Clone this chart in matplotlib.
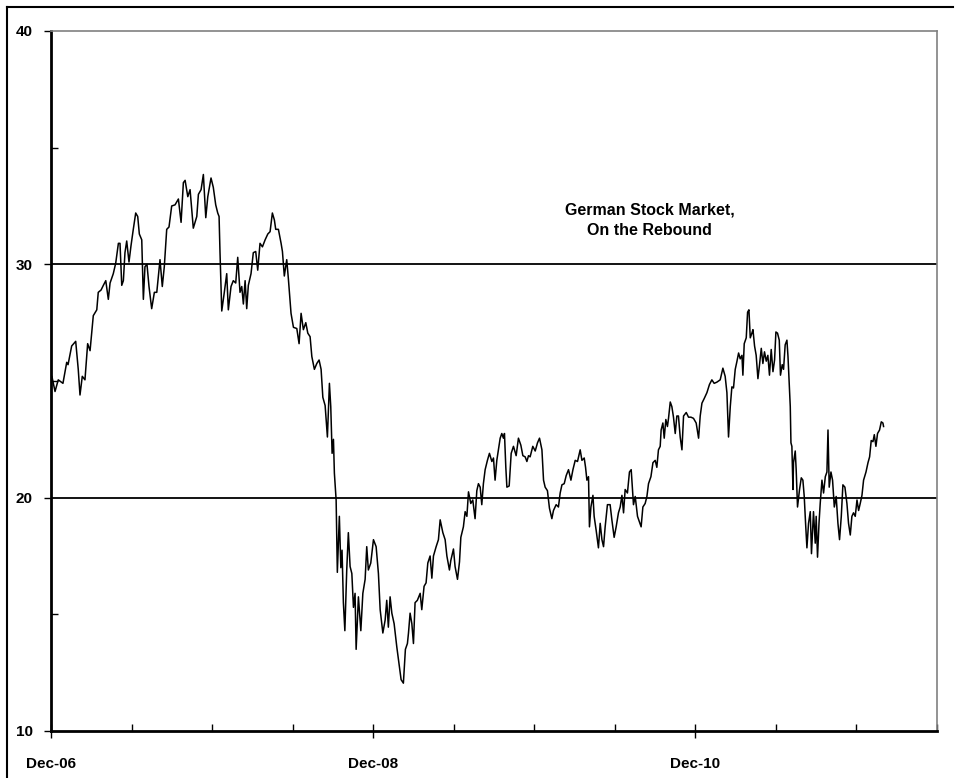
import matplotlib
matplotlib.use("Agg")
import matplotlib.pyplot as plt
from matplotlib.lines import Line2D

# months after Dec-06, and index level
months = [
    0.07, 0.30, 0.54, 0.89, 1.17, 1.27, 1.54, 1.84, 2.03, 2.16, 2.33, 2.53, 2.73, 2.91,
    3.15, 3.41, 3.52, 3.73, 3.90, 4.08, 4.27, 4.40, 4.64, 4.82, 5.02, 5.14, 5.27, 5.39,
    5.51, 5.64, 5.81, 5.96, 6.13, 6.31, 6.46, 6.58, 6.76, 6.88, 7.00, 7.15, 7.30, 7.50,
    7.70, 7.88, 8.00, 8.12, 8.29, 8.44, 8.62, 8.79, 8.99, 9.24, 9.49, 9.69, 9.86, 9.99,
    10.19, 10.36, 10.60, 10.86, 10.98, 11.18, 11.35, 11.53, 11.68, 11.92, 12.09, 12.27,
    12.42, 12.52, 12.59, 12.72, 12.91, 13.09, 13.21, 13.41, 13.58, 13.76, 13.91, 14.08,
    14.21, 14.33, 14.46, 14.58, 14.70, 14.90, 15.07, 15.25, 15.40, 15.57, 15.75, 15.95,
    16.15, 16.32, 16.49, 16.64, 16.74, 16.94, 17.14, 17.24, 17.38, 17.56, 17.68, 17.88,
    18.06, 18.31, 18.48, 18.63, 18.80, 18.98, 19.13, 19.30, 19.43, 19.62, 19.80, 19.97,
    20.12, 20.25, 20.42, 20.59, 20.74, 20.84, 20.94, 21.04, 21.11, 21.24, 21.33, 21.48,
    21.59, 21.68, 21.78, 21.89, 22.03, 22.15, 22.28, 22.41, 22.53, 22.65, 22.73, 22.90,
    23.08, 23.23, 23.40, 23.52, 23.64, 23.82, 24.02, 24.22, 24.39, 24.52, 24.72, 24.89,
    25.01, 25.13, 25.26, 25.39, 25.56, 25.76, 25.95, 26.08, 26.25, 26.40, 26.55, 26.63,
    26.75, 26.88, 27.00, 27.12, 27.29, 27.50, 27.62, 27.79, 27.94, 28.07, 28.24, 28.37,
    28.49, 28.69, 28.86, 28.99, 29.19, 29.36, 29.49, 29.68, 29.78, 29.98, 30.10, 30.28,
    30.43, 30.53, 30.72, 30.85, 30.98, 31.10, 31.27, 31.42, 31.59, 31.72, 31.84, 31.97,
    32.09, 32.21, 32.34, 32.51, 32.66, 32.84, 32.96, 33.08, 33.21, 33.33, 33.46, 33.58,
    33.70, 33.78, 33.88, 33.96, 34.13, 34.28, 34.45, 34.65, 34.82, 35.00, 35.15, 35.32,
    35.45, 35.57, 35.69, 35.89, 36.07, 36.24, 36.39, 36.57, 36.69, 36.81, 36.98, 37.13,
    37.31, 37.43, 37.63, 37.80, 37.93, 38.06, 38.23, 38.38, 38.55, 38.73, 38.88, 39.05,
    39.22, 39.42, 39.55, 39.72, 39.82, 39.92, 40.04, 40.11, 40.22, 40.37, 40.46, 40.61,
    40.78, 40.91, 41.04, 41.16, 41.28, 41.45, 41.65, 41.78, 41.95, 42.10, 42.27, 42.40,
    42.53, 42.65, 42.77, 42.94, 43.09, 43.22, 43.39, 43.52, 43.69, 43.84, 43.96, 44.09,
    44.26, 44.39, 44.51, 44.69, 44.84, 45.01, 45.13, 45.25, 45.38, 45.45, 45.58, 45.68,
    45.80, 45.92, 46.00, 46.13, 46.25, 46.37, 46.50, 46.62, 46.74, 46.87, 47.00, 47.12,
    47.32, 47.49, 47.67, 47.86, 48.06, 48.24, 48.36, 48.49, 48.66, 48.86, 49.05, 49.23,
    49.40, 49.60, 49.85, 50.05, 50.22, 50.35, 50.47, 50.60, 50.72, 50.84, 50.97, 51.10,
    51.22, 51.34, 51.47, 51.54, 51.64, 51.79, 51.89, 51.99, 52.09, 52.21, 52.29, 52.41,
    52.53, 52.66, 52.78, 52.91, 53.03, 53.15, 53.28, 53.40, 53.52, 53.65, 53.78, 53.90,
    54.00, 54.12, 54.25, 54.34, 54.47, 54.57, 54.69, 54.82, 54.90, 54.99, 55.07, 55.12,
    55.19, 55.27, 55.31, 55.44, 55.51, 55.61, 55.76, 55.89, 56.01, 56.11, 56.21, 56.31,
    56.43, 56.56, 56.65, 56.80, 56.93, 57.00, 57.10, 57.21, 57.30, 57.43, 57.55, 57.68,
    57.80, 57.88, 57.97, 58.10, 58.22, 58.35, 58.49, 58.62, 58.74, 58.87, 58.99, 59.14,
    59.29, 59.41, 59.54, 59.66, 59.78, 59.91, 60.04, 60.16, 60.28, 60.41, 60.53, 60.71,
    60.86, 60.98, 61.10, 61.23, 61.33, 61.45, 61.57, 61.72, 61.85, 61.97, 62.02,
]
level = [
    25.19, 24.55, 25.05, 24.9, 25.8, 25.7, 26.5, 26.7, 25.5, 24.4, 25.2, 25.05, 26.6, 26.3,
    27.8, 28.05, 28.8, 28.9, 29.1, 29.3, 28.5, 29.2, 29.6, 30.05, 30.9, 30.9, 29.1, 29.3,
    30.5, 31.0, 30.1, 30.8, 31.5, 32.2, 32.05, 31.3, 31.05, 28.5, 29.9, 30.0, 29.05, 28.1,
    28.8, 28.8, 29.5, 30.2, 29.05, 29.9, 31.5, 31.6, 32.5, 32.55, 32.8, 31.8, 33.5, 33.6,
    32.9, 33.2, 31.55, 32.05, 33.0, 33.2, 33.85, 32.0, 32.9, 33.7, 33.3, 32.55,
    32.2, 32.05, 30.5, 28.0, 28.8, 29.6, 28.05, 29.05, 29.3, 29.2, 30.3, 28.8,
    29.05, 28.3, 29.3, 28.1, 29.1, 29.6, 30.5, 30.55, 29.75, 30.9, 30.75, 31.05,
    31.3, 31.4, 32.2, 31.9, 31.5, 31.5, 30.9, 30.55, 29.5, 30.2, 29.4, 27.9,
    27.3, 27.25, 26.6, 27.9, 27.2, 27.5, 27.05, 26.9, 26.05, 25.5, 25.75, 25.9,
    25.5, 24.3, 23.95, 22.6, 24.9, 23.9, 21.9, 22.5, 21.05, 19.9, 16.8, 19.2,
    17.0, 17.75, 15.5, 14.3, 16.9, 18.5, 17.05, 16.75, 15.3, 15.9, 13.5, 15.75,
    14.3, 15.9, 16.5, 17.9, 16.9, 17.2, 18.2, 17.9, 16.75, 15.2, 14.2, 14.75,
    15.6, 14.45, 15.75, 15.05, 14.6, 13.6, 12.75, 12.2, 12.05, 13.5, 13.75, 14.2,
    15.05, 14.6, 13.75, 15.5, 15.6, 15.9, 15.2, 16.2, 16.35, 17.2, 17.5, 16.55,
    17.5, 17.9, 18.2, 19.05, 18.5, 18.2, 17.5, 16.9, 17.3, 17.8, 17.05, 16.5,
    17.25, 18.3, 18.75, 19.4, 19.2, 20.25, 19.75, 19.9, 19.1, 20.3, 20.6, 20.45,
    19.7, 20.6, 21.2, 21.6, 21.9, 21.55, 21.7, 20.75, 21.6, 22.05, 22.55, 22.75,
    22.55, 22.75, 21.3, 20.45, 20.5, 21.9, 22.2, 21.8, 22.55, 22.25, 21.8, 21.75,
    21.55, 21.8, 21.75, 22.2, 22.0, 22.35, 22.55, 22.05, 20.75, 20.45, 20.3, 19.55,
    19.1, 19.45, 19.7, 19.6, 20.2, 20.55, 20.6, 20.95, 21.2, 20.75, 21.2, 21.6,
    21.55, 22.05, 21.6, 21.7, 21.3, 20.75, 20.9, 18.75, 19.6, 20.1, 19.2, 18.6,
    17.85, 18.9, 18.2, 17.9, 18.75, 19.7, 19.7, 19.05, 18.3, 18.75, 19.35, 19.6,
    20.1, 19.35, 20.35, 20.2, 21.1, 21.2, 19.7, 20.05, 19.2, 18.95, 18.75, 19.6,
    19.75, 20.05, 20.6, 20.9, 21.5, 21.6, 21.3, 22.05, 22.2, 22.9, 23.2, 22.55,
    23.35, 23.05, 23.4, 24.1, 23.9, 23.45, 22.75, 23.5, 23.5, 22.6, 22.05, 23.5,
    23.65, 23.45, 23.45, 23.4, 23.2, 22.55, 23.5, 24.05, 24.25, 24.5, 24.85, 25.05,
    24.9, 24.95, 25.05, 25.55, 25.2, 24.5, 22.6, 23.9, 24.75, 24.7, 25.5, 25.85,
    26.2, 25.95, 26.1, 25.25, 26.6, 26.85, 27.95, 28.05, 26.85, 27.05, 27.2, 26.5,
    26.1, 25.1, 25.7, 26.4, 25.75, 26.25, 25.85, 26.1, 25.25, 26.35, 25.4, 25.9,
    27.1, 27.05, 26.75, 25.25, 25.7, 25.5, 26.55, 26.75, 26.05, 24.9, 23.9, 22.35,
    22.2, 20.35, 21.5, 22.0, 21.2, 19.6, 20.35, 20.85, 20.75, 20.05, 18.9, 17.85,
    18.9, 19.4, 17.6, 19.4, 18.05, 19.2, 17.45, 18.9, 19.75, 20.75, 20.2, 20.9,
    21.1, 22.9, 20.45, 21.1, 20.75, 19.6, 20.05, 18.9, 18.2, 19.2, 20.55, 20.45,
    19.75, 18.9, 18.4, 19.2, 19.35, 19.2, 19.9, 19.45, 19.75, 20.1, 20.75, 21.1,
    21.5, 21.75, 22.45, 22.4, 22.7, 22.2, 22.75, 22.9, 23.25, 23.2, 23.05,
]

tick_months = [0, 24, 48]
tick_labels = ["Dec-06", "Dec-08", "Dec-10"]
note = "German Stock Market,\nOn the Rebound"

plt.rcParams["font.family"] = ["Liberation Sans", "DejaVu Sans"]
plt.rcParams["font.weight"] = "bold"

fig = plt.figure(figsize=(9.56, 7.78), dpi=100)
ax = fig.add_axes([51 / 956, 1 - 731 / 778, (937 - 51) / 956, (731 - 31) / 778])

ax.plot(months, level, color="black", lw=1.1)
for g in (20, 30):
    ax.axhline(g, color="black", lw=1.3, zorder=1)

ax.set_xlim(0, 66)
ax.set_ylim(10, 40)

ax.set_yticks([10, 20, 30, 40])
ax.set_yticks([15, 25, 35], minor=True)
ax.set_xticks(tick_months)
ax.set_xticklabels(tick_labels)
ax.set_xticks(range(0, 67, 6), minor=True)

ax.tick_params(axis="y", which="major", direction="out", length=5, width=1,
               labelsize=11, pad=8)
ax.tick_params(axis="y", which="minor", direction="in", length=5, width=1)
ax.tick_params(axis="x", which="major", direction="inout", length=10, width=1,
               labelsize=11, pad=14)
ax.tick_params(axis="x", which="minor", direction="in", length=5, width=1)

for s in ("left", "bottom"):
    ax.spines[s].set_linewidth(2)
    ax.spines[s].set_color("black")
for s in ("top", "right"):
    ax.spines[s].set_linewidth(1.2)
    ax.spines[s].set_color("#808080")

ax.text(44.6, 31.9, note, ha="center", va="center", fontsize=11.5,
        fontweight="bold", linespacing=1.45)

# outer frame (top and left edges)
fig.add_artist(Line2D([7 / 956, 953 / 956], [1 - 7 / 778, 1 - 7 / 778],
                      transform=fig.transFigure, color="black", lw=1.5))
fig.add_artist(Line2D([7 / 956, 7 / 956], [0, 1 - 7 / 778],
                      transform=fig.transFigure, color="black", lw=1.5))

fig.savefig("out.png", dpi=100, facecolor="white")
